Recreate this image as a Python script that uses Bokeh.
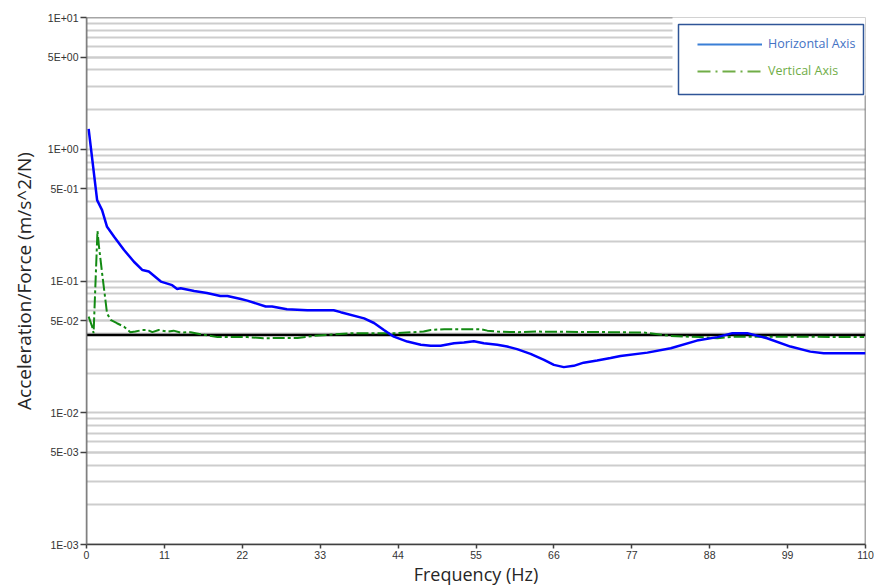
from bokeh.plotting import figure
from bokeh.models import (FixedTicker, CustomJSTickFormatter, BoxAnnotation,
                          Legend, LegendItem)
from bokeh.embed import file_html
from bokeh.resources import INLINE

# Horizontal-axis transfer function (frequency in Hz, acceleration/force)
freq_h = [0.3, 1.5, 2.2, 2.9, 3.9, 5.3, 6.7, 7.9, 8.8, 10.5, 12.1, 12.8, 13.3,
          15.2, 17.0, 18.9, 19.9, 21.8, 22.7, 25.3, 26.2, 28.3, 31.2, 34.9,
          35.9, 39.2, 40.6, 42.0, 43.4, 45.3, 47.2, 48.6, 50.0, 51.9, 53.3,
          54.7, 56.1, 58.0, 59.4, 60.8, 62.7, 64.6, 66.0, 67.4, 68.8, 70.2,
          72.1, 74.0, 75.4, 79.2, 82.5, 86.2, 89.1, 91.2, 93.3, 96.1, 99.4,
          102.2, 104.1, 110.0]
accel_h = [1.43, 0.411, 0.345, 0.258, 0.217, 0.172, 0.140, 0.121, 0.118, 0.099,
           0.093, 0.087, 0.088, 0.084, 0.081, 0.077, 0.077, 0.073, 0.071, 0.064,
           0.064, 0.061, 0.060, 0.060, 0.058, 0.052, 0.048, 0.0425, 0.0378,
           0.0347, 0.0328, 0.0322, 0.0322, 0.0337, 0.0341, 0.0349, 0.0337,
           0.0328, 0.0318, 0.0304, 0.0280, 0.0252, 0.0231, 0.0222, 0.0227,
           0.0240, 0.0249, 0.0260, 0.0270, 0.0286, 0.0309, 0.0353, 0.0375,
           0.0402, 0.0402, 0.0368, 0.0318, 0.0291, 0.0283, 0.0283]

# Vertical-axis transfer function
freq_v = [0.3, 0.8, 1.0, 1.55, 1.75, 2.2, 2.9, 3.4, 4.3, 5.3, 6.2, 6.9, 7.9,
          8.6, 9.3, 10.2, 11.4, 12.3, 13.3, 14.7, 16.1, 18.5, 22.7, 25.0, 29.8,
          32.1, 37.3, 43.9, 47.6, 48.6, 50.5, 55.6, 56.6, 58.0, 60.8, 63.6,
          74.0, 78.7, 82.5, 86.7, 89.1, 91.4, 100.8, 109.8]
accel_v = [0.0536, 0.0450, 0.0402, 0.2405, 0.185, 0.115, 0.0569, 0.0507,
           0.0478, 0.0450, 0.0409, 0.0413, 0.0425, 0.0425, 0.0409, 0.0425,
           0.0413, 0.0420, 0.0406, 0.0409, 0.0395, 0.0375, 0.0375, 0.0368,
           0.0370, 0.0383, 0.0402, 0.0402, 0.0413, 0.0425, 0.0431, 0.0431,
           0.0420, 0.0413, 0.0409, 0.0413, 0.0409, 0.0406, 0.0383, 0.0375,
           0.0368, 0.0378, 0.0378, 0.0375]

# Acceptance limit
limit_freq = [0, 110]
limit_accel = [0.039, 0.039]

x_ticks = [0, 11, 22, 33, 44, 55, 66, 77, 88, 99, 110]
y_major = [1e-3, 5e-3, 1e-2, 5e-2, 1e-1, 5e-1, 1.0, 5.0, 10.0]
y_minor = [round(m * 10.0 ** e, 6) for e in range(-3, 1) for m in range(2, 10)]

TEXT = "#333333"

p = figure(width=874, height=588, x_range=(0, 110), y_range=(1e-3, 10),
           y_axis_type="log", output_backend="svg", toolbar_location=None,
           min_border_left=86, min_border_right=9, min_border_top=17,
           min_border_bottom=43)
p.outline_line_color = None
p.background_fill_color = "white"
p.border_fill_color = "white"

# grid lines at every 1..9 mantissa of each decade
y_ticker = FixedTicker(ticks=y_major, minor_ticks=y_minor)
p.xgrid.visible = False
p.ygrid.ticker = y_ticker
p.ygrid.grid_line_color = "#cdcdcd"
p.ygrid.grid_line_width = 2
p.ygrid.minor_grid_line_color = "#cdcdcd"
p.ygrid.minor_grid_line_width = 2

# frame border
frame_border = BoxAnnotation(fill_color=None, fill_alpha=0,
                             line_color="#4d4d4d", line_alpha=1.0,
                             line_width=1.5, level="underlay")
p.add_layout(frame_border)

# axes
p.yaxis.ticker = y_ticker
p.yaxis.formatter = CustomJSTickFormatter(code="""
    const e = Math.floor(Math.log10(tick) + 1e-9);
    const m = Math.round(tick / Math.pow(10, e));
    const a = Math.abs(e);
    return m + 'E' + (e < 0 ? '-' : '+') + (a < 10 ? '0' : '') + a;
""")
p.xaxis.ticker = FixedTicker(ticks=x_ticks)
for ax in (p.xaxis[0], p.yaxis[0]):
    ax.minor_tick_line_color = None
    ax.major_tick_in = 0
    ax.major_tick_line_color = "#404040"
    ax.major_tick_line_width = 1.5
    ax.axis_line_width = 1.5
    ax.major_label_text_font = "Liberation Sans"
    ax.major_label_text_color = TEXT
    ax.axis_label_text_font = "Open Sans"
    ax.axis_label_text_font_style = "normal"
    ax.axis_label_text_color = "#262626"
p.yaxis.axis_line_color = "#808080"
p.xaxis.axis_line_color = "#404040"
p.yaxis.major_tick_out = 6
p.yaxis.major_label_standoff = 2
p.yaxis.major_label_text_font_size = "10.5px"
p.xaxis.major_tick_out = 4
p.xaxis.major_label_standoff = 2
p.xaxis.major_label_text_font_size = "10.5px"
p.yaxis.axis_label = "Acceleration/Force (m/s^2/N)"
p.yaxis.axis_label_text_font_size = "19px"
p.yaxis.axis_label_standoff = 8
p.xaxis.axis_label = "Frequency (Hz)"
p.xaxis.axis_label_text_font_size = "18px"
p.xaxis.axis_label_standoff = 0

# data
p.line(limit_freq, limit_accel, line_color="black", line_width=2.5)
p.line(freq_v, accel_v, line_color="#138a13", line_width=2,
       line_dash="12 3 3 3")
p.line(freq_h, accel_h, line_color="#0000ff", line_width=2.5)

# legend swatches (single-point lines: nothing drawn in the plot area)
sw_h = p.line(freq_h[:1], accel_h[:1], line_color="#3a7fd6", line_width=2)
sw_v = p.line(freq_v[:1], accel_v[:1], line_color="#70ad47", line_width=2,
              line_dash="13 5 2 5")

# blank panel behind the legend and the legend frame
cover = BoxAnnotation(left=586, right=781, bottom=449, top=531,
                      left_units="screen", right_units="screen",
                      bottom_units="screen", top_units="screen",
                      fill_color="white", fill_alpha=1.0, line_color=None)
p.add_layout(cover)
legend_box = BoxAnnotation(left=592, right=777, bottom=450, top=520,
                           left_units="screen", right_units="screen",
                           bottom_units="screen", top_units="screen",
                           fill_color="white", fill_alpha=1.0,
                           line_color="#2f5597", line_alpha=1.0,
                           line_width=1.5)
p.add_layout(legend_box)

def make_legend(label, renderer, color, loc):
    return Legend(items=[LegendItem(label=label, renderers=[renderer])],
                  location=loc, padding=0, margin=0, spacing=0,
                  border_line_color=None, background_fill_alpha=0,
                  glyph_width=65, glyph_height=16, label_height=16,
                  label_standoff=6, label_text_font="Open Sans",
                  label_text_font_size="12.5px", label_text_color=color)

p.add_layout(make_legend("Horizontal Axis", sw_h, "#4472c4", (611, 492)))
p.add_layout(make_legend("Vertical Axis", sw_v, "#70ad47", (611, 465)))

open("out.html", "w").write(file_html(p, INLINE))
